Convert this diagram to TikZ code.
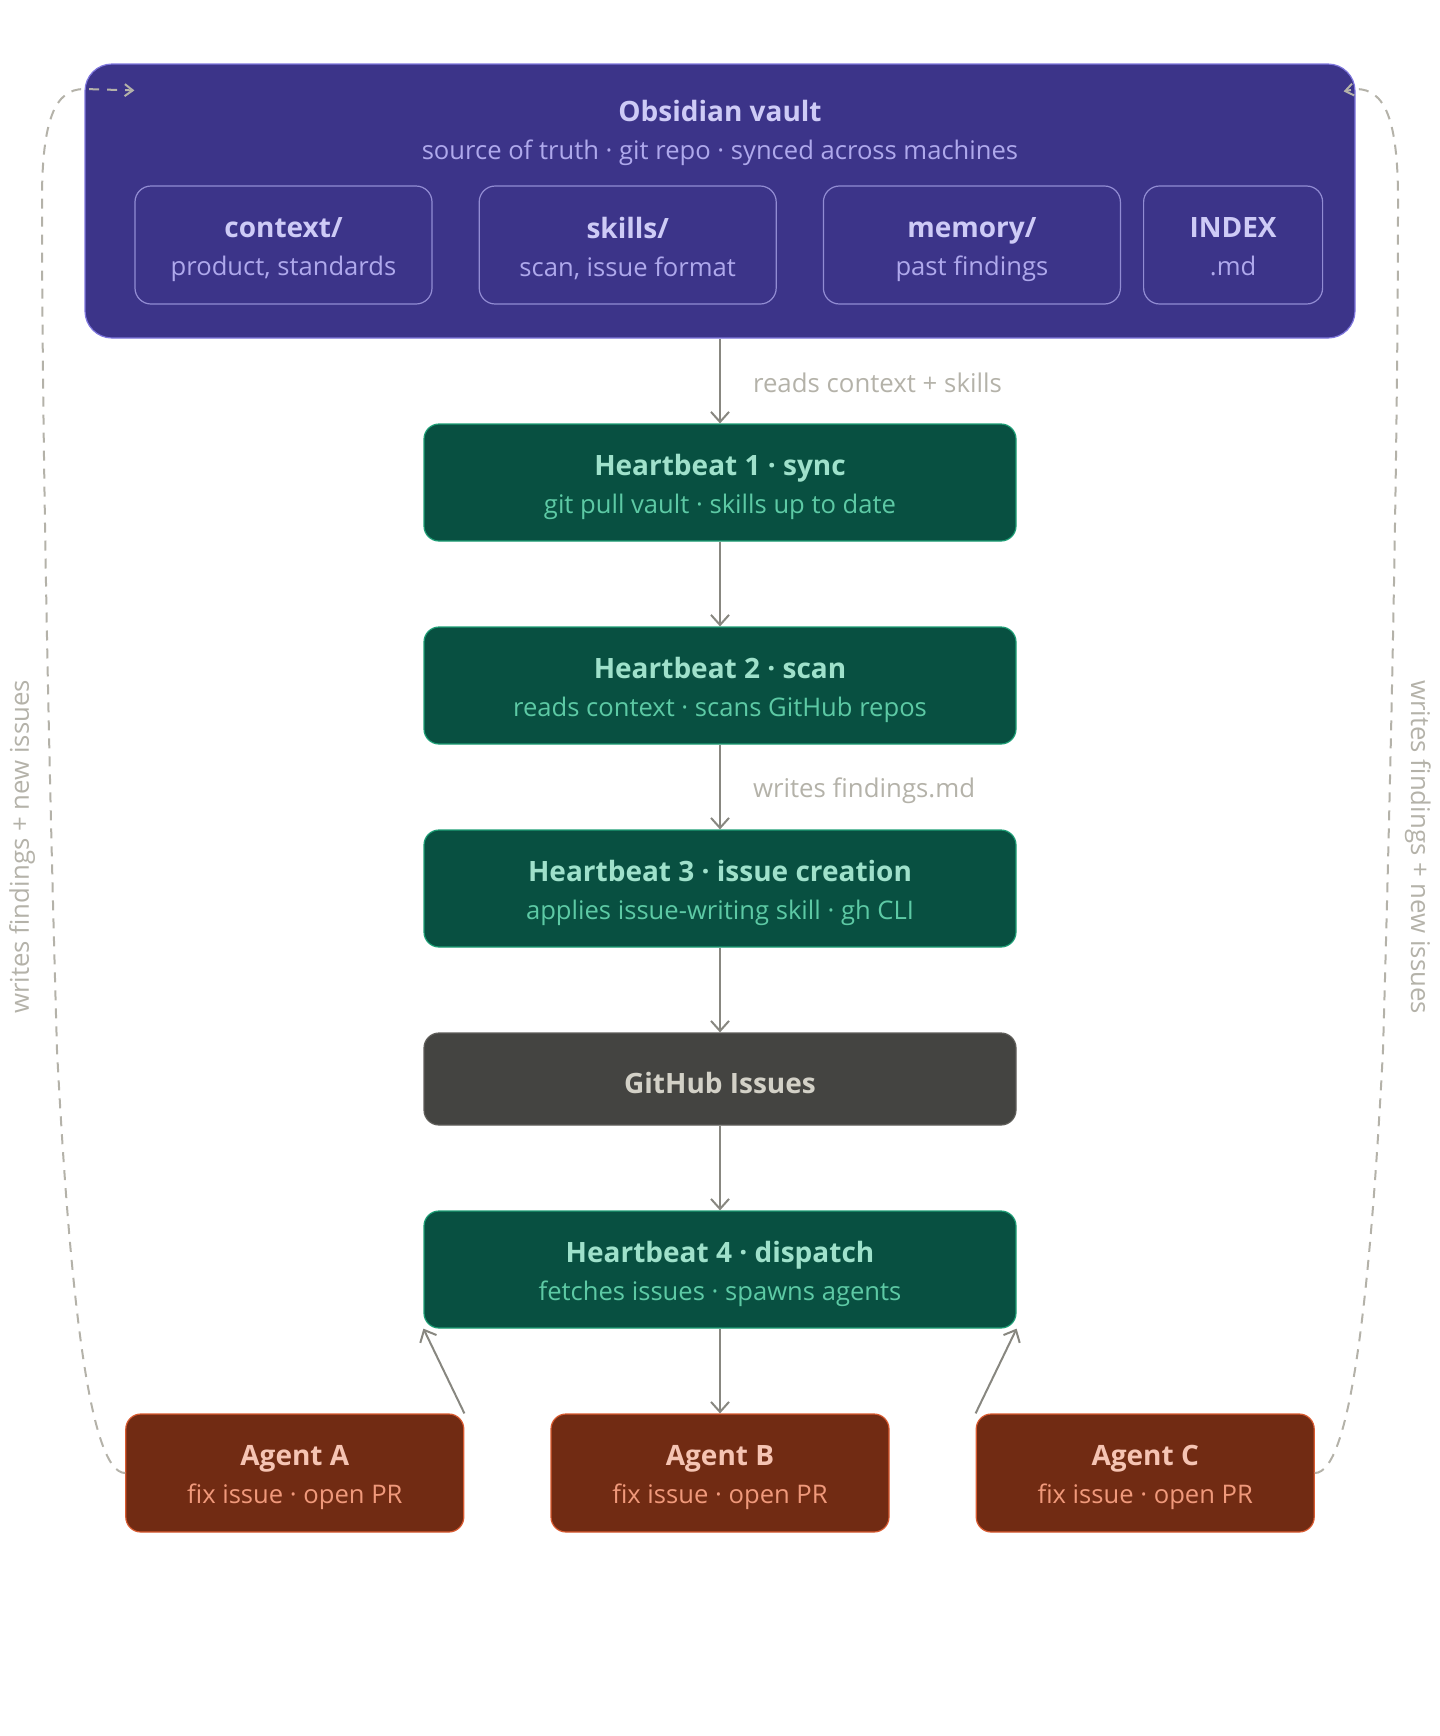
\documentclass[tikz,border=0pt]{standalone}
\usepackage{fontspec}
\setmainfont{Open Sans}
\usepackage{tikz}
\usetikzlibrary{positioning,arrows.meta}
\definecolor{vaultfill}{HTML}{3C3489}
\definecolor{vaultline}{HTML}{7F77DD}
\definecolor{vaultttl}{HTML}{CECBF6}
\definecolor{vaultsub}{HTML}{AFA9EC}
\colorlet{dirline}{vaultsub!75!vaultfill}
\definecolor{hbfill}{HTML}{085041}
\definecolor{hbline}{HTML}{1D9E75}
\definecolor{hbttl}{HTML}{9FE1CB}
\definecolor{hbsub}{HTML}{5DCAA5}
\definecolor{ghfill}{HTML}{444441}
\definecolor{ghline}{HTML}{5F5E5A}
\definecolor{ghttl}{HTML}{D3D1C7}
\definecolor{agfill}{HTML}{712B13}
\definecolor{agline}{HTML}{D85A30}
\definecolor{agttl}{HTML}{F5C4B3}
\definecolor{agsub}{HTML}{F0997B}
\definecolor{arrgray}{HTML}{888780}
\definecolor{dashgray}{HTML}{B4B2A9}
\colorlet{ttl}{black}
\newcommand{\hd}[1]{{\fontsize{14}{19}\selectfont\bfseries\color{ttl}\rule{0pt}{14.6pt}#1}}

\begin{document}
\begin{tikzpicture}[
  x=0.5pt, y=-0.5pt,
  font=\fontsize{12.8}{19}\selectfont,
  box/.style={draw, rounded corners=7.5pt, align=center, inner sep=0pt, line width=0.6pt},
  vlt/.style={box, fill=vaultfill, draw=vaultline, rounded corners=13.5pt,
              minimum width=635pt, minimum height=137pt},
  dir/.style={box, draw=dirline, text=vaultsub, rounded corners=8pt,
              minimum width=148.5pt, minimum height=59pt,
              execute at begin node=\colorlet{ttl}{vaultttl}},
  hb/.style={box, fill=hbfill, draw=hbline, text=hbsub,
             minimum width=296pt, minimum height=58.5pt,
             execute at begin node=\colorlet{ttl}{hbttl}},
  gh/.style={box, fill=ghfill, draw=ghline, minimum width=296pt, minimum height=46pt,
             execute at begin node=\colorlet{ttl}{ghttl}},
  agent/.style={box, fill=agfill, draw=agline, text=agsub,
                minimum width=169pt, minimum height=59pt,
                execute at begin node=\colorlet{ttl}{agttl}},
  lbl/.style={text=dashgray, inner sep=0pt, font=\fontsize{12.9}{15}\selectfont},
  arr/.style={draw=arrgray, line width=1pt, -{Straight Barb[length=5pt,width=9pt]}},
  back/.style={draw=dashgray, line width=1pt, dash pattern=on 5pt off 4pt,
               -{Straight Barb[length=4pt,width=6pt]}},
  node distance=42.4pt and 43pt]
\useasboundingbox (0,0) rectangle (1440,1736);

% vault
\node[vlt] (vault) at (720,201) {};
\node[text=vaultttl, font=\fontsize{14}{17}\selectfont\bfseries] (vname)
  at ([yshift=-24pt]vault.north) {Obsidian vault};
\node[text=vaultsub] (vsub) at ([yshift=-44.5pt]vault.north)
  {source of truth · git repo · synced across machines};
\node[dir] (ctx) at (283.5,245) {\hd{context/}\\product, standards};
\node[dir, right=23pt of ctx] (skl) {\hd{skills/}\\scan, issue format};
\node[dir, right=23pt of skl] (mem) {\hd{memory/}\\past findings};
\node[dir, right=11pt of mem, minimum width=89.5pt] (idx) {\hd{INDEX}\\.md\vphantom{p}};

% heartbeats
\node[hb, below=of vault] (hb1) {\hd{Heartbeat 1 · sync}\\git pull vault · skills up to date};
\node[hb, below=of hb1] (hb2) {\hd{Heartbeat 2 · scan}\\reads context · scans GitHub repos};
\node[hb, below=of hb2] (hb3) {\hd{Heartbeat 3 · issue creation}\\applies issue-writing skill · gh CLI};
\node[gh, below=of hb3] (ghi) {\hd{GitHub Issues}};
\node[hb, below=of ghi] (hb4) {\hd{Heartbeat 4 · dispatch}\\fetches issues · spawns agents};

% agents
\node[agent, below=of hb4] (agB) {\hd{Agent B}\\fix issue · open PR};
\node[agent, left=of agB] (agA) {\hd{Agent A}\\fix issue · open PR};
\node[agent, right=of agB] (agC) {\hd{Agent C}\\fix issue · open PR};

\draw[arr] (vault) -- node[lbl, right=16pt, yshift=-1pt] (l1) {reads context + skills} (hb1);
\draw[arr] (hb1) -- (hb2);
\draw[arr] (hb2) -- node[lbl, right=16pt, yshift=-2pt] (l2) {writes findings.md} (hb3);
\draw[arr] (hb3) -- (ghi);
\draw[arr] (ghi) -- (hb4);
\draw[arr] (hb4) -- (agB);
\draw[arr] (agA.north east) -- (hb4.south west);
\draw[arr] (agC.north west) -- (hb4.south east);

% write-back loops
\coordinate (vin) at ([xshift=25pt,yshift=-13.5pt]vault.north west);
\coordinate (vin2) at ([xshift=-6pt,yshift=-14pt]vault.north east);
\draw[back] (agA.west) .. controls (90,1473) and (70,1300) .. (57,1050)
  .. controls (47,700) and (42,400) .. (42,200)
  .. controls (42,120) and (55,89) .. (84,89) -- (vin);
\draw[back] (agC.east) .. controls (1350,1473) and (1370,1300) .. (1383,1050)
  .. controls (1393,700) and (1398,400) .. (1398,200)
  .. controls (1398,120) and (1385,89) .. (1356,89) -- (vin2);
\node[lbl, rotate=90] (wl) at (22,847) {writes findings + new issues};
\node[lbl, rotate=-90] (wr) at (1418,847) {writes findings + new issues};
\end{tikzpicture}
\end{document}
